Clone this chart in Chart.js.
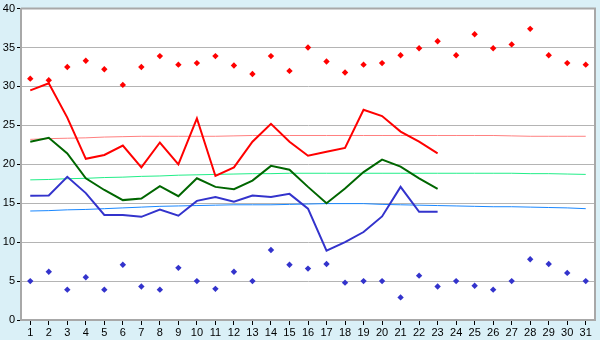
<!DOCTYPE html>
<html>
<head>
<meta charset="utf-8">
<script src="https://cdn.jsdelivr.net/npm/chart.js@4/dist/chart.umd.min.js"></script>
<style>
html,body{margin:0;padding:0;background:#daf0f7;}
canvas{display:block;}
</style>
</head>
<body>
<canvas id="c" width="600" height="340"></canvas>
<script>
const categories = Array.from({length:31}, (_, i) => String(i + 1));
const yTicks = [0,5,10,15,20,25,30,35,40];

const maxPoints = [31.0,30.8,32.5,33.3,32.2,30.2,32.5,33.9,32.8,33.0,33.9,32.7,31.6,33.9,32.0,35.0,33.2,31.8,32.8,33.0,34.0,34.9,35.8,34.0,36.7,34.9,35.4,37.4,34.0,33.0,32.8];
const maxLine = [29.5,30.4,26.0,20.7,21.2,22.4,19.6,22.8,20.0,25.9,18.5,19.6,22.9,25.2,22.9,21.1,21.6,22.1,27.0,26.2,24.2,22.9,21.4,null,null,null,null,null,null,null,null];
const meanLine = [22.9,23.4,21.4,18.2,16.7,15.4,15.6,17.2,15.9,18.2,17.1,16.8,17.9,19.8,19.3,17.1,15.0,16.9,19.0,20.6,19.7,18.2,16.85,null,null,null,null,null,null,null,null];
const minLine = [15.95,16.0,18.4,16.3,13.5,13.5,13.25,14.2,13.4,15.3,15.8,15.2,16.0,15.8,16.2,14.3,8.9,10.0,11.3,13.3,17.1,13.9,13.9,null,null,null,null,null,null,null,null];
const minPoints = [5.0,6.2,3.9,5.5,3.9,7.1,4.3,3.9,6.7,5.0,4.0,6.2,5.0,9.0,7.1,6.6,7.2,4.8,5.0,5.0,2.9,5.7,4.3,5.0,4.4,3.9,5.0,7.8,7.2,6.05,5.0];
const maxNormal = [23.2,23.3,23.35,23.4,23.5,23.55,23.6,23.6,23.6,23.6,23.6,23.65,23.7,23.7,23.7,23.7,23.7,23.7,23.7,23.7,23.7,23.7,23.7,23.7,23.7,23.7,23.65,23.6,23.6,23.6,23.6];
const meanNormal = [18.0,18.05,18.15,18.2,18.3,18.35,18.45,18.5,18.6,18.65,18.7,18.75,18.8,18.8,18.85,18.85,18.85,18.85,18.85,18.85,18.85,18.85,18.85,18.85,18.85,18.85,18.85,18.8,18.8,18.75,18.7];
const minNormal = [14.0,14.05,14.15,14.2,14.3,14.4,14.5,14.6,14.65,14.7,14.75,14.8,14.8,14.8,14.85,14.9,14.95,14.95,14.95,14.85,14.8,14.75,14.7,14.65,14.6,14.55,14.55,14.5,14.45,14.4,14.3];

const bgPlugin = {
  id: 'bg',
  beforeDraw(chart) {
    const {ctx, chartArea: a} = chart;
    ctx.save();
    ctx.fillStyle = '#daf0f7';
    ctx.fillRect(0, 0, chart.width, chart.height);
    ctx.fillStyle = '#ffffff';
    ctx.fillRect(a.left, a.top, a.right - a.left, a.bottom - a.top);
    ctx.restore();
  },
  afterDatasetsDraw(chart) {
    const {ctx, chartArea: a} = chart;
    ctx.save();
    ctx.strokeStyle = '#a8a8a8';
    ctx.lineWidth = 2;
    ctx.beginPath();
    ctx.moveTo(a.left, a.top);
    ctx.lineTo(a.right, a.top);
    ctx.lineTo(a.right, a.bottom);
    ctx.stroke();
    ctx.restore();
  }
};

const lineDs = (data, color, width, order) => ({
  data, borderColor: color, backgroundColor: color, borderWidth: width,
  pointRadius: 0, tension: 0, fill: false, spanGaps: false, order
});
const ptDs = (data, color, order) => ({
  data, showLine: false, pointStyle: 'rectRot', pointRadius: 3.2,
  pointBackgroundColor: color, pointBorderWidth: 0, borderColor: color, order
});

new Chart(document.getElementById('c'), {
  type: 'line',
  data: {
    labels: categories,
    datasets: [
      lineDs(maxNormal, '#ff8080', 1, 9),
      lineDs(meanNormal, '#22ee88', 1, 8),
      lineDs(minNormal, '#1a88ff', 1, 7),
      lineDs(maxLine, '#ff0000', 2, 3),
      lineDs(meanLine, '#006600', 2, 2),
      lineDs(minLine, '#3333cc', 2, 1),
      ptDs(maxPoints, '#ff0000', 0),
      ptDs(minPoints, '#3333cc', 0)
    ]
  },
  options: {
    responsive: false,
    animation: false,
    devicePixelRatio: 1,
    layout: { padding: { top: 5, right: 5, left: 0, bottom: 0 } },
    plugins: { legend: { display: false }, tooltip: { enabled: false } },
    scales: {
      x: {
        type: 'category',
        offset: true,
        grid: { drawOnChartArea: false, drawTicks: true, tickLength: 5, tickColor: '#000000', offset: false },
        border: { display: true, color: '#a8a8a8', width: 2 },
        ticks: { autoSkip: false, maxRotation: 0, color: '#000', padding: 1, font: { family: 'Liberation Sans', size: 11 } },
        afterFit(s) { s.height = 20; }
      },
      y: {
        min: 0, max: 40,
        afterBuildTicks(s) { s.ticks = yTicks.map(v => ({value: v})); },
        grid: { color: '#b4b4b4', lineWidth: 1, tickLength: 4, tickColor: '#000000' },
        border: { display: true, color: '#a8a8a8', width: 2 },
        ticks: { color: '#000', padding: 2, font: { family: 'Liberation Sans', size: 11 } },
        afterFit(s) { s.width = 21; }
      }
    }
  },
  plugins: [bgPlugin]
});
</script>
</body>
</html>
